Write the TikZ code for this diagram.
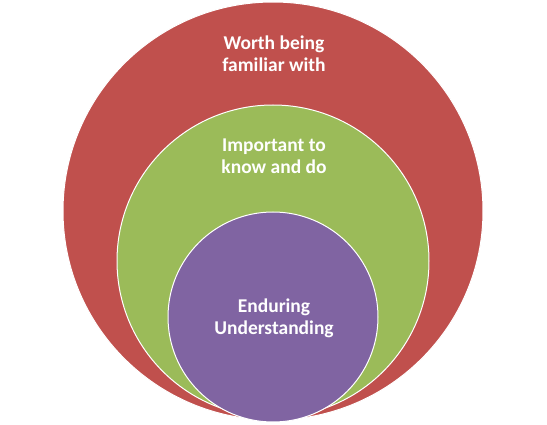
\documentclass[tikz,border=0pt]{standalone}
\usepackage{fontspec}
\setmainfont{Carlito}
\usepackage{xcolor}
\definecolor{ringred}{HTML}{C0504D}
\definecolor{ringgreen}{HTML}{9BBB59}
\definecolor{ringpurple}{HTML}{8064A2}
\begin{document}
\begin{tikzpicture}[x=1pt,y=1pt,
		ring/.style={draw=white,line width=1pt},
		lbl/.style={text=white,font=\bfseries\fontsize{19.5}{22}\selectfont,align=center}]
					\useasboundingbox (0,0) rectangle (547,424);
					
					\draw[ring,fill=ringred] (273,213) ellipse (210 and 209);
					\draw[ring,fill=ringgreen] (273,163) circle (156);
					\draw[ring,fill=ringpurple] (273,107) circle (105);
					
					\node[lbl] (worth) at (274,370) {Worth being\\familiar with};
					\node[lbl] (important) at (274,268) {Important to\\know and do};
					\node[lbl] (enduring) at (274,106) {Enduring\\Understanding};
				\end{tikzpicture}
\end{document}
